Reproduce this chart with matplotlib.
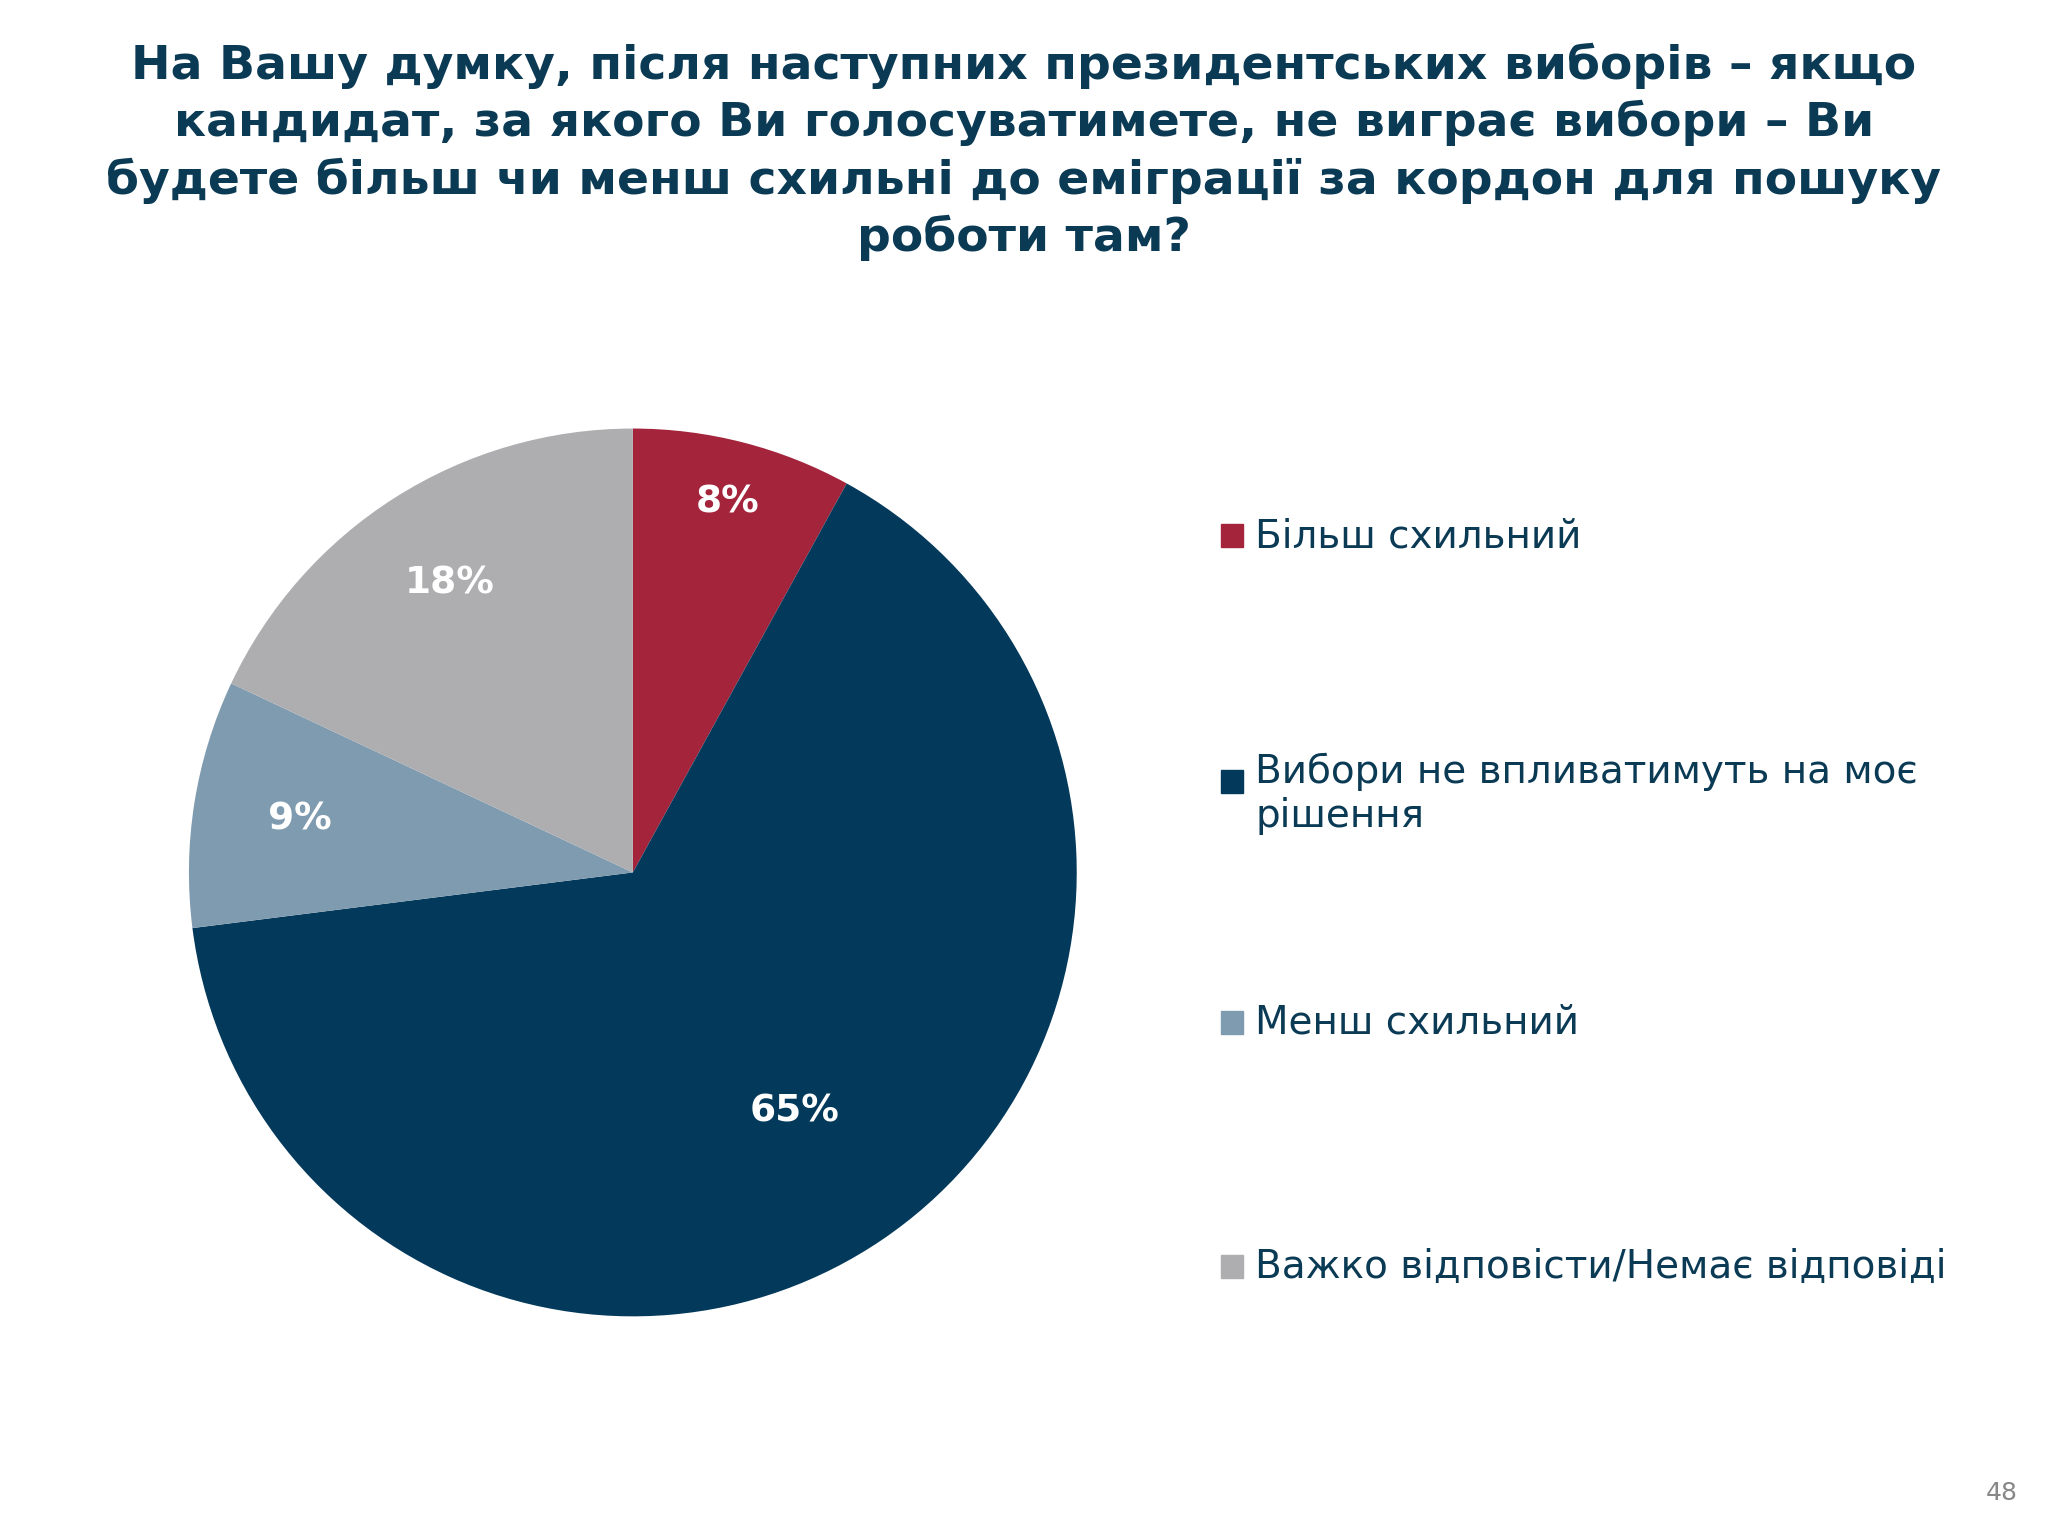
import matplotlib.pyplot as plt
import numpy as np

categories = ["Більш схильний", "Вибори не впливатимуть на моє\nрішення",
              "Менш схильний", "Важко відповісти/Немає відповіді"]
values = [8, 65, 9, 18]
labels = ["8%", "65%", "9%", "18%"]
colors = ["#A3243B", "#03395A", "#7F9BB0", "#AEADB0"]
label_dist = [0.86, 0.65, 0.76, 0.77]

title = ("На Вашу думку, після наступних президентських виборів – якщо\n"
         "кандидат, за якого Ви голосуватимете, не виграє вибори – Ви\n"
         "будете більш чи менш схильні до еміграції за кордон для пошуку\n"
         "роботи там?")

fig = plt.figure(figsize=(20.48, 15.36), dpi=100)
fig.patch.set_facecolor("white")

fig.text(0.5, 0.972, title, ha="center", va="top", fontsize=34, fontweight="bold",
         color="#0B3A55", linespacing=1.3)

ax = fig.add_axes([0.092, 0.143, 0.434, 0.578])
wedges, _ = ax.pie(values, colors=colors, startangle=90, counterclock=False,
                   wedgeprops=dict(linewidth=0))
ax.set_xlim(-1, 1)
ax.set_ylim(-1, 1)
ax.set_aspect("equal")
for w, lab, d in zip(wedges, labels, label_dist):
    ang = np.deg2rad((w.theta1 + w.theta2) / 2)
    ax.text(d * np.cos(ang), d * np.sin(ang), lab, ha="center", va="center",
            color="white", fontsize=27, fontweight="bold")

ys = [0.651, 0.491, 0.334, 0.175]
for cat, c, y in zip(categories, colors, ys):
    fig.patches.append(plt.Rectangle((0.596, y - 0.007), 0.011, 0.0147,
                                     transform=fig.transFigure, color=c))
    fig.text(0.613, y + 0.019 if "\n" in cat else y, cat, ha="left",
             va="top" if "\n" in cat else "center",
             fontsize=28, color="#0B3A55", linespacing=1.2)

fig.text(0.985, 0.02, "48", ha="right", va="bottom", fontsize=18, color="#888888")

fig.savefig("out.png", dpi=100)
